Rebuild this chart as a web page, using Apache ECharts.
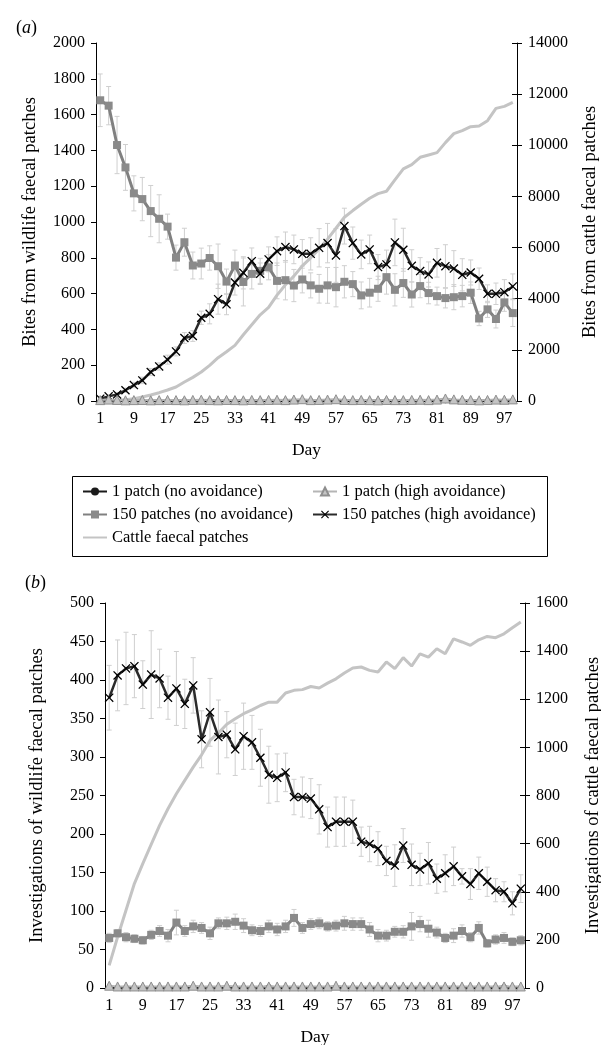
<!DOCTYPE html>
<html>
<head>
<meta charset="utf-8">
<script src="https://cdn.jsdelivr.net/npm/echarts@6/dist/echarts.min.js"></script>
<style>
html, body { margin: 0; padding: 0; background: #fff; }
#chart { width: 601px; height: 1045px; }
</style>
</head>
<body>
<div id="chart"></div>
<script>
// x categories: every second day
const days = [1, 3, 5, 7, 9, 11, 13, 15, 17, 19, 21, 23, 25, 27, 29, 31, 33, 35, 37, 39,
  41, 43, 45, 47, 49, 51, 53, 55, 57, 59, 61, 63, 65, 67, 69, 71, 73, 75, 77, 79,
  81, 83, 85, 87, 89, 91, 93, 95, 97, 99];

// (a) bites
const aOnePatchNo = [2, 3, 2, 2, 3, 2, 2, 3, 2, 2, 3, 2, 2, 3, 2, 2, 3, 2, 2, 3,
  2, 2, 3, 2, 2, 3, 2, 2, 3, 2, 2, 3, 2, 2, 3, 2, 2, 3, 2, 2, 3, 2, 2, 3, 2, 2, 3, 2, 2, 3];
const aOnePatchHigh = [5, 8, 6, 4, 5, 6, 4, 5, 6, 5, 4, 6, 7, 5, 4, 6, 5, 4, 6, 5,
  6, 7, 5, 8, 10, 5, 6, 8, 10, 6, 5, 6, 5, 4, 6, 5, 5, 6, 7, 5, 8, 14, 9, 7, 6, 4, 6, 8, 7, 9];
const aManyNo = [1680, 1650, 1430, 1305, 1160, 1128, 1061, 1018, 974, 801, 887, 757, 768, 799, 753, 667, 757, 665, 710, 727,
  747, 671, 675, 645, 679, 646, 627, 646, 636, 666, 653, 590, 605, 627, 692, 621, 659, 595, 642, 603,
  586, 575, 580, 586, 605, 461, 512, 458, 551, 491];
const aManyNoErr = [147, 107, 160, 128, 98, 121, 143, 134, 70, 70, 78, 75, 86, 68, 124, 70, 86, 134, 84, 70,
  70, 100, 110, 90, 75, 70, 80, 100, 110, 90, 70, 75, 80, 70, 95, 90, 80, 70, 65, 60,
  50, 55, 70, 60, 60, 40, 45, 50, 50, 75];
const aManyHigh = [13, 26, 37, 60, 89, 115, 162, 193, 231, 277, 352, 363, 465, 487, 569, 540, 662, 716, 781, 711,
  791, 837, 860, 847, 822, 822, 856, 882, 813, 977, 882, 819, 847, 748, 763, 886, 845, 755, 726, 707,
  772, 753, 740, 705, 718, 683, 599, 599, 608, 640];
const aManyHighErr = [10, 10, 10, 12, 15, 18, 20, 20, 25, 25, 30, 30, 37, 56, 84, 58, 70, 90, 74, 60,
  70, 80, 84, 80, 80, 90, 107, 110, 150, 100, 90, 80, 80, 70, 80, 130, 120, 90, 75, 70,
  80, 120, 100, 90, 70, 60, 50, 60, 70, 70];
const aCattle = [5, 15, 26, 52, 91, 156, 234, 325, 430, 547, 742, 924, 1133, 1393, 1693, 1927, 2174, 2591, 2982, 3372,
  3659, 4140, 4544, 4883, 5286, 5600, 5950, 6328, 6757, 7187, 7447, 7695, 7929, 8111, 8203, 8645, 9075, 9244, 9531, 9622,
  9713, 10104, 10455, 10572, 10728, 10755, 10963, 11445, 11523, 11679];

// (b) investigations
const bOnePatchNo = [1, 1, 1, 1, 1, 1, 1, 1, 1, 1, 1, 1, 1, 1, 1, 1, 1, 1, 1, 2,
  1, 1, 1, 1, 1, 1, 1, 1, 1, 1, 1, 1, 1, 1, 1, 1, 1, 1, 1, 1, 1, 1, 1, 1, 1, 1, 1, 2, 1, 1];
const bOnePatchHigh = [3, 2, 2, 2, 2, 2, 2, 2, 2, 2, 3, 2, 2, 2, 3, 2, 2, 2, 2, 2,
  2, 2, 2, 2, 2, 2, 2, 3, 2, 2, 2, 2, 2, 2, 2, 2, 2, 2, 2, 2, 2, 2, 2, 2, 2, 2, 2, 2, 2, 2];
const bManyNo = [65, 71, 66, 64, 62, 69, 74, 68, 85, 74, 80, 78, 71, 84, 84, 86, 81, 75, 74, 80,
  76, 80, 91, 78, 83, 84, 80, 81, 84, 83, 83, 76, 68, 68, 73, 73, 80, 83, 77, 72,
  65, 68, 74, 66, 78, 58, 63, 65, 60, 62];
const bManyNoErr = [6, 5, 6, 5, 5, 6, 7, 8, 16, 7, 8, 7, 8, 7, 8, 10, 9, 7, 7, 8,
  8, 8, 11, 7, 7, 7, 6, 7, 9, 8, 8, 9, 8, 7, 7, 8, 18, 10, 11, 7, 6, 9, 8, 6, 8, 5, 6, 7, 5, 6];
const bManyHigh = [377, 406, 415, 418, 394, 407, 402, 377, 389, 369, 393, 323, 358, 326, 329, 310, 327, 319, 299, 277,
  273, 280, 248, 248, 246, 232, 209, 216, 216, 216, 190, 187, 181, 165, 159, 185, 160, 154, 162, 142,
  149, 158, 145, 135, 149, 138, 127, 125, 110, 129];
const bManyHighErr = [42, 46, 47, 41, 31, 57, 38, 28, 48, 32, 36, 37, 44, 48, 30, 34, 43, 35, 37, 37,
  31, 25, 23, 26, 26, 32, 26, 32, 32, 28, 19, 23, 22, 19, 27, 22, 27, 21, 27, 19,
  24, 25, 10, 20, 21, 19, 15, 13, 15, 18];
const bCattle = [94, 212, 323, 434, 517, 597, 676, 745, 807, 863, 918, 969, 1029, 1060, 1096, 1119, 1140, 1156, 1174, 1188,
  1188, 1226, 1237, 1240, 1253, 1247, 1267, 1285, 1309, 1330, 1334, 1320, 1313, 1355, 1327, 1373, 1338, 1389, 1375, 1410,
  1389, 1451, 1438, 1424, 1447, 1461, 1456, 1472, 1497, 1521];

const FONT = 'Liberation Serif';
const XMARK = 'path://M1,0L5,4L9,0L10,1L6,5L10,9L9,10L5,6L1,10L0,9L4,5L0,1Z';

function errData(vals, errs) {
  return vals.map((v, i) => [i, v - errs[i], v + errs[i]]);
}

function renderErr(params, api) {
  const x = api.value(0);
  const lo = api.coord([x, api.value(1)]);
  const hi = api.coord([x, api.value(2)]);
  const w = 2.5;
  const style = { stroke: '#cfcfcf', lineWidth: 1 };
  return {
    type: 'group',
    children: [
      { type: 'line', shape: { x1: lo[0], y1: lo[1], x2: hi[0], y2: hi[1] }, style: style },
      { type: 'line', shape: { x1: lo[0] - w, y1: lo[1], x2: lo[0] + w, y2: lo[1] }, style: style },
      { type: 'line', shape: { x1: hi[0] - w, y1: hi[1], x2: hi[0] + w, y2: hi[1] }, style: style }
    ]
  };
}

function xAxisFor(gridIndex) {
  return {
    type: 'category',
    gridIndex: gridIndex,
    data: days,
    boundaryGap: true,
    name: 'Day',
    nameLocation: 'middle',
    nameGap: 40,
    nameTextStyle: { fontFamily: FONT, fontSize: 17.5, color: '#000' },
    axisLine: { lineStyle: { color: '#000', width: 1 } },
    axisTick: { show: false },
    axisLabel: { interval: 3, margin: 10, fontFamily: FONT, fontSize: 16, color: '#000' }
  };
}

function yAxisFor(gridIndex, pos, max, interval, name, gap) {
  return {
    type: 'value',
    gridIndex: gridIndex,
    position: pos,
    min: 0,
    max: max,
    interval: interval,
    name: name,
    nameLocation: 'middle',
    nameRotate: 90,
    nameGap: gap,
    nameMoveOverlap: false,
    nameTextStyle: { fontFamily: FONT, fontSize: 18.5, color: '#000' },
    axisLine: { show: true, lineStyle: { color: '#000', width: 1 } },
    axisTick: { show: true, length: 5, lineStyle: { color: '#000' } },
    axisLabel: { margin: 11, fontFamily: FONT, fontSize: 16, color: '#000', formatter: v => String(v) },
    splitLine: { show: false }
  };
}

// inner half of the crossing ticks on the right axes
function innerTicks(gridIndex, max, interval) {
  return {
    type: 'value',
    gridIndex: gridIndex,
    position: 'right',
    min: 0,
    max: max,
    interval: interval,
    axisLine: { show: false },
    axisTick: { show: true, inside: true, length: 5, lineStyle: { color: '#000' } },
    axisLabel: { show: false },
    splitLine: { show: false }
  };
}

function seriesFor(xi, yl, yr, oneNo, oneHigh, manyNo, manyNoErr, manyHigh, manyHighErr, cattle) {
  return [
    {
      type: 'custom', xAxisIndex: xi, yAxisIndex: yl, z: 1,
      renderItem: renderErr, encode: { x: 0, y: [1, 2] },
      data: errData(manyNo, manyNoErr), silent: true
    },
    {
      type: 'custom', xAxisIndex: xi, yAxisIndex: yl, z: 1,
      renderItem: renderErr, encode: { x: 0, y: [1, 2] },
      data: errData(manyHigh, manyHighErr), silent: true
    },
    {
      name: 'Cattle faecal patches', type: 'line', xAxisIndex: xi, yAxisIndex: yr, z: 2,
      symbol: 'none', showSymbol: false,
      itemStyle: { color: '#c4c4c4' },
      lineStyle: { color: '#c4c4c4', width: 3 },
      data: cattle
    },
    {
      name: '150 patches (no avoidance)', type: 'line', xAxisIndex: xi, yAxisIndex: yl, z: 3,
      symbol: 'rect', symbolSize: 8, showAllSymbol: true,
      itemStyle: { color: '#8a8a8a' },
      lineStyle: { color: '#808080', width: 3 },
      data: manyNo
    },
    {
      name: '150 patches (high avoidance)', type: 'line', xAxisIndex: xi, yAxisIndex: yl, z: 4,
      symbol: XMARK, symbolSize: 9, showAllSymbol: true,
      itemStyle: { color: '#000' },
      lineStyle: { color: '#2a2a2a', width: 2.5 },
      data: manyHigh
    },
    {
      name: '1 patch (no avoidance)', type: 'line', xAxisIndex: xi, yAxisIndex: yl, z: 5,
      symbol: 'circle', symbolSize: 5, showAllSymbol: true,
      itemStyle: { color: '#1a1a1a' },
      lineStyle: { color: '#1a1a1a', width: 2 },
      data: oneNo
    },
    {
      name: '1 patch (high avoidance)', type: 'line', xAxisIndex: xi, yAxisIndex: yl, z: 6,
      symbol: 'triangle', symbolSize: 9, showAllSymbol: true,
      itemStyle: { color: '#c4c4c4', borderColor: '#8f8f8f', borderWidth: 1 },
      lineStyle: { color: '#b5b5b5', width: 2 },
      data: oneHigh
    }
  ];
}

const legendText = { fontFamily: FONT, fontSize: 16.5, color: '#000' };
const panelRich = {
  p: { fontFamily: FONT, fontSize: 18, fontWeight: 'normal', color: '#000' },
  i: { fontFamily: FONT, fontSize: 18, fontWeight: 'normal', fontStyle: 'italic', color: '#000' }
};

const option = {
  animation: false,
  backgroundColor: '#fff',
  title: [
    { text: '{p|(}{i|a}{p|)}', left: 11, top: 14, textStyle: { fontWeight: 'normal', rich: panelRich } },
    { text: '{p|(}{i|b}{p|)}', left: 20, top: 569, textStyle: { fontWeight: 'normal', rich: panelRich } }
  ],
  grid: [
    { left: 96, top: 43, width: 421, height: 358, outerBoundsMode: 'none', containLabel: false },
    { left: 105, top: 603, width: 420, height: 385, outerBoundsMode: 'none', containLabel: false }
  ],
  legend: [
    {
      left: 77, top: 478, orient: 'vertical', itemGap: 6, itemWidth: 24, itemHeight: 10,
      textStyle: legendText,
      data: ['1 patch (no avoidance)', '150 patches (no avoidance)',
        { name: 'Cattle faecal patches', itemStyle: { opacity: 0 } }]
    },
    {
      left: 307, top: 478, orient: 'vertical', itemGap: 6, itemWidth: 24, itemHeight: 10,
      textStyle: legendText,
      data: ['1 patch (high avoidance)', '150 patches (high avoidance)']
    }
  ],
  graphic: [
    {
      type: 'rect', left: 70, top: 474, z: 0,
      shape: { width: 475, height: 80 },
      style: { fill: 'none', stroke: '#000', lineWidth: 1 }
    }
  ],
  xAxis: [xAxisFor(0), xAxisFor(1)],
  yAxis: [
    yAxisFor(0, 'left', 2000, 200, 'Bites from wildlife faecal patches', 56),
    yAxisFor(0, 'right', 14000, 2000, 'Bites from cattle faecal patches', 64),
    yAxisFor(1, 'left', 500, 50, 'Investigations of wildlife faecal patches', 58),
    yAxisFor(1, 'right', 1600, 200, 'Investigations of cattle faecal patches', 59),
    innerTicks(0, 14000, 2000),
    innerTicks(1, 1600, 200)
  ],
  series: [].concat(
    seriesFor(0, 0, 1, aOnePatchNo, aOnePatchHigh, aManyNo, aManyNoErr, aManyHigh, aManyHighErr, aCattle),
    seriesFor(1, 2, 3, bOnePatchNo, bOnePatchHigh, bManyNo, bManyNoErr, bManyHigh, bManyHighErr, bCattle)
  )
};

const chart = echarts.init(document.getElementById('chart'));
chart.setOption(option);
</script>
</body>
</html>
